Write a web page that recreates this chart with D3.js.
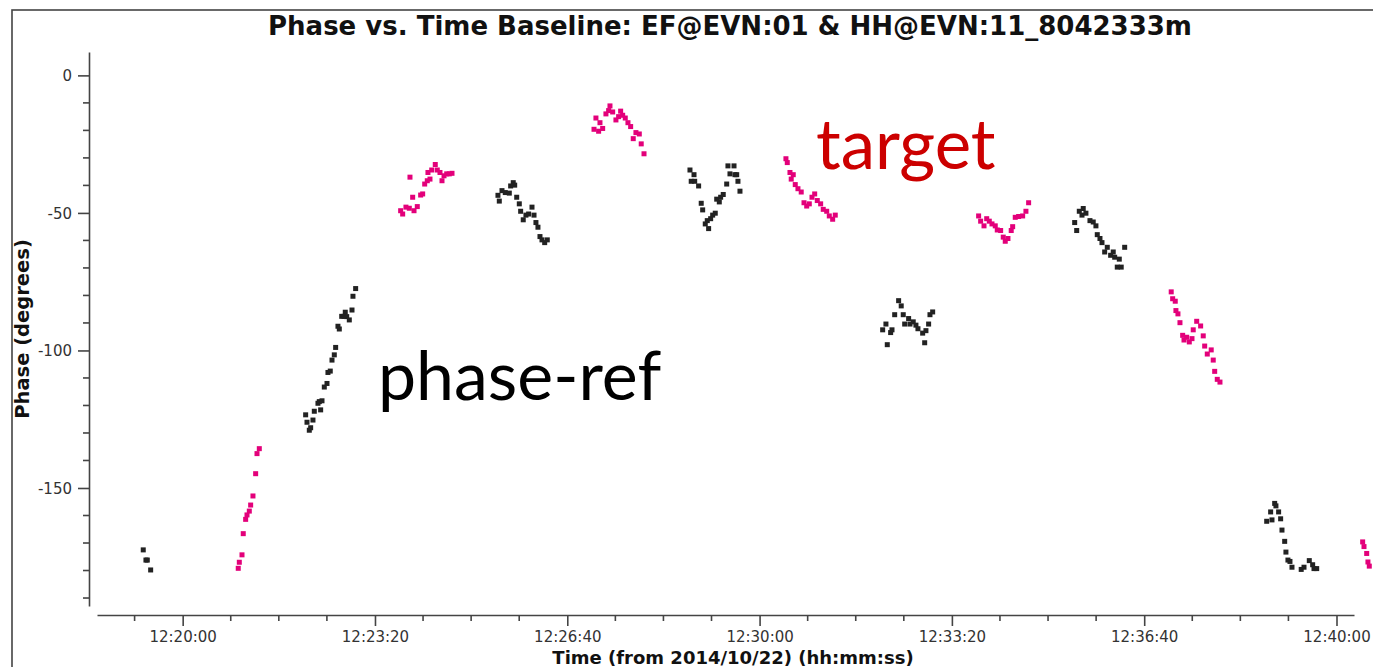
<!DOCTYPE html>
<html>
<head>
<meta charset="utf-8">
<script src="https://cdn.jsdelivr.net/npm/d3@7"></script>
<style>
  html, body { margin: 0; padding: 0; background: #fff; }
  svg { display: block; }
</style>
</head>
<body>
<svg id="chart" width="1373" height="667"></svg>
<script>
// Visibility phase on baseline EF-HH, scans alternating between the
// phase-reference calibrator and the target. Times are seconds after 12:00:00 UT.
const phaseRef = [
  [1159.0,-172.5],[1161.8,-176.2],[1163.2,-176.2],[1166.7,-179.8],
  [1327.9,-123.4],[1329.3,-126.1],[1331.7,-129.0],[1333.1,-128.1],[1335.5,-125.3],
  [1336.9,-122.1],[1340.7,-119.2],[1342.1,-118.6],[1343.5,-121.6],[1344.9,-118.3],
  [1347.3,-113.3],[1350.1,-112.0],[1351.1,-108.0],[1353.5,-107.5],[1355.3,-103.5],
  [1357.7,-101.6],[1359.1,-98.9],[1361.5,-91.2],[1362.9,-92.2],[1365.4,-87.6],
  [1367.8,-87.6],[1369.1,-86.1],[1370.6,-87.7],[1373.3,-88.9],[1376.1,-85.3],
  [1377.1,-80.3],[1379.9,-77.5],
  [1527.9,-43.6],[1529.3,-45.7],[1532.1,-41.9],[1535.5,-42.6],[1539.7,-42.8],
  [1541.1,-40.2],[1543.8,-39.0],[1545.3,-39.9],[1547.4,-44.3],[1550.1,-46.7],
  [1551.5,-49.4],[1554.2,-52.5],[1557.0,-50.8],[1559.8,-50.4],[1563.3,-47.9],
  [1565.4,-50.8],[1567.4,-53.5],[1569.5,-55.2],[1571.6,-58.6],[1573.7,-59.8],
  [1576.5,-60.8],[1579.2,-59.8],
  [1727.6,-34.4],[1728.9,-38.5],[1731.8,-36.1],[1732.5,-38.5],[1736.6,-40.2],
  [1739.3,-46.5],[1740.8,-48.9],[1743.5,-54.0],[1745.6,-52.8],[1747.0,-55.7],
  [1749.1,-52.1],[1751.2,-50.8],[1753.9,-50.1],[1755.4,-45.0],[1758.1,-46.0],
  [1759.5,-44.3],[1762.2,-43.3],[1765.8,-39.5],[1767.1,-32.9],[1769.2,-35.8],
  [1773.4,-32.9],[1774.4,-36.1],[1776.2,-36.1],[1777.5,-38.5],[1779.6,-42.1],
  [1928.0,-92.5],[1931.4,-90.4],[1932.8,-97.9],[1936.3,-93.5],[1937.7,-92.5],
  [1940.5,-87.0],[1944.6,-81.9],[1947.3,-83.8],[1949.4,-87.0],[1950.9,-90.4],
  [1955.0,-88.4],[1956.4,-90.4],[1959.8,-89.6],[1962.6,-90.8],[1964.7,-92.1],
  [1969.6,-93.7],[1971.7,-97.2],[1973.0,-92.8],[1975.8,-90.4],[1977.2,-87.0],
  [1980.0,-86.0],
  [2127.7,-53.5],[2129.8,-56.4],[2132.5,-49.4],[2135.3,-50.8],[2136.6,-48.4],
  [2139.4,-50.1],[2143.6,-52.8],[2147.0,-53.3],[2149.8,-54.7],[2151.2,-57.9],
  [2154.0,-59.3],[2156.1,-60.8],[2158.9,-64.2],[2161.6,-62.5],[2165.1,-65.4],
  [2167.8,-64.2],[2169.3,-66.1],[2172.0,-69.7],[2174.1,-66.8],[2176.1,-69.7],
  [2179.7,-62.5],
  [2327.4,-162.1],[2331.5,-158.7],[2332.9,-161.6],[2335.7,-155.6],[2337.0,-156.5],
  [2339.8,-158.7],[2341.9,-161.2],[2343.3,-165.3],[2346.1,-169.4],[2347.4,-173.3],
  [2349.5,-176.2],[2351.6,-176.7],[2353.7,-178.8],[2363.3,-179.6],[2366.2,-178.8],
  [2371.7,-176.4],[2375.2,-177.9],[2376.6,-179.3],[2379.4,-179.3]
];

const target = [
  [1257.8,-179.2],[1258.9,-177.0],[1261.7,-174.3],[1263.0,-166.6],[1265.5,-161.4],
  [1266.9,-159.8],[1269.3,-158.4],[1270.7,-156.2],[1273.1,-152.9],[1275.9,-144.8],
  [1277.3,-137.5],[1279.7,-135.7],
  [1426.7,-49.2],[1428.8,-50.4],[1432.2,-47.9],[1435.7,-48.3],[1436.4,-37.0],
  [1439.2,-44.3],[1440.6,-49.2],[1444.0,-47.7],[1447.5,-43.5],[1449.6,-43.1],
  [1451.7,-39.5],[1454.4,-38.3],[1455.1,-35.3],[1457.2,-37.7],[1459.0,-34.4],
  [1462.7,-32.4],[1464.8,-34.4],[1467.6,-35.3],[1469.7,-38.3],[1471.8,-36.5],
  [1474.6,-35.8],[1477.3,-35.8],[1480.1,-35.6],
  [1627.8,-19.6],[1629.8,-15.5],[1632.6,-20.3],[1634.0,-17.2],[1636.8,-19.3],
  [1640.2,-14.0],[1643.0,-12.8],[1644.4,-11.1],[1647.2,-13.3],[1650.6,-16.2],
  [1653.4,-15.0],[1655.5,-13.0],[1657.6,-14.5],[1660.3,-15.5],[1663.1,-17.2],
  [1665.9,-18.6],[1668.6,-23.0],[1671.4,-20.8],[1674.9,-21.3],[1676.9,-24.9],
  [1679.8,-28.5],
  [1827.4,-30.3],[1828.8,-31.7],[1831.6,-35.3],[1832.9,-37.7],[1835.0,-36.1],
  [1837.1,-39.7],[1839.9,-41.2],[1843.3,-42.4],[1846.2,-46.3],[1849.0,-47.5],
  [1851.7,-46.7],[1854.5,-44.3],[1857.3,-43.1],[1860.0,-45.5],[1863.5,-46.7],
  [1866.2,-48.7],[1869.8,-49.4],[1872.5,-51.1],[1876.0,-52.3],[1878.7,-50.8],
  [2027.8,-51.1],[2029.9,-53.0],[2033.4,-54.7],[2036.2,-52.1],[2038.9,-53.0],
  [2041.7,-54.0],[2045.1,-54.7],[2047.2,-56.2],[2050.7,-56.4],[2053.4,-58.8],
  [2055.5,-60.3],[2058.3,-59.3],[2061.7,-56.4],[2063.2,-55.0],[2065.9,-51.6],
  [2069.4,-51.3],[2073.6,-51.1],[2077.0,-49.4],[2079.8,-46.3],
  [2228.1,-78.7],[2229.6,-81.2],[2232.3,-82.1],[2233.0,-85.5],[2235.1,-86.7],
  [2237.2,-89.9],[2240.0,-94.5],[2241.4,-96.2],[2244.2,-95.2],[2246.9,-96.9],
  [2249.7,-95.7],[2251.0,-92.5],[2254.6,-89.4],[2258.7,-91.1],[2261.4,-94.7],
  [2262.9,-98.4],[2265.6,-101.3],[2269.7,-99.8],[2271.8,-103.5],[2273.3,-107.6],
  [2276.0,-110.5],[2278.8,-111.5],
  [2427.2,-169.6],[2428.6,-171.3],[2431.4,-173.8],[2432.7,-176.9],[2434.1,-178.4]
];

// Axis annotation: labelled times (seconds after 12:00:00) and phase ticks
const timeTicks = [1200, 1400, 1600, 1800, 2000, 2200, 2400];
const timeTickLabels = ["12:20:00", "12:23:20", "12:26:40", "12:30:00", "12:33:20", "12:36:40", "12:40:00"];
const phaseTicks = [0, -50, -100, -150];
const phaseTickLabels = ["0", "-50", "-100", "-150"];

const titleText = "Phase vs. Time Baseline: EF@EVN:01 & HH@EVN:11_8042333m";
const xLabel = "Time (from 2014/10/22) (hh:mm:ss)";
const yLabel = "Phase (degrees)";

const svg = d3.select("#chart");
const INK = "#333";
const REF_COLOR = "#222222";
const TGT_COLOR = "#e3007a";

// Outer frame
svg.append("rect")
  .attr("x", 12).attr("y", 10)
  .attr("width", 1420).attr("height", 720)
  .attr("fill", "none").attr("stroke", "#444").attr("stroke-width", 1.6);

// Scales
const x = d3.scaleLinear().domain([1110.9, 2418.2]).range([97, 1354]);
const y = d3.scaleLinear().domain([-192.9, 8.5]).range([606, 52]);

// Minor ticks every 50 s and every 10 degrees
const timeMinor = d3.range(1150, 2418, 50).filter(t => !timeTicks.includes(t));
const phaseMinor = d3.range(-190, 1, 10).filter(p => !phaseTicks.includes(p));

const axisFont = "'DejaVu Sans', sans-serif";

// X axis
const xAxisG = svg.append("g").attr("transform", "translate(0,615)");
xAxisG.call(d3.axisBottom(x).tickValues(timeTicks).tickSize(11).tickSizeOuter(0)
  .tickFormat((d, i) => timeTickLabels[i]));
xAxisG.selectAll(".minor").data(timeMinor).enter().append("line")
  .attr("class", "minor")
  .attr("x1", d => x(d)).attr("x2", d => x(d))
  .attr("y1", 0).attr("y2", 6);

// Y axis
const yAxisG = svg.append("g").attr("transform", "translate(89,0)");
yAxisG.call(d3.axisLeft(y).tickValues(phaseTicks).tickSize(11).tickSizeOuter(0)
  .tickFormat((d, i) => phaseTickLabels[i]));
yAxisG.selectAll(".minor").data(phaseMinor).enter().append("line")
  .attr("class", "minor")
  .attr("y1", d => y(d)).attr("y2", d => y(d))
  .attr("x1", 0).attr("x2", -6);

[xAxisG, yAxisG].forEach(g => {
  g.select(".domain").attr("stroke", "#444").attr("stroke-width", 1.6);
  g.selectAll(".tick line, line.minor").attr("stroke", "#444").attr("stroke-width", 1.6);
  g.selectAll(".tick text")
    .attr("fill", INK)
    .style("font-family", axisFont)
    .style("font-size", "15px");
});
xAxisG.selectAll(".tick text").attr("dy", "0").attr("y", 27);
yAxisG.selectAll(".tick text").attr("x", -17).attr("dy", "0.35em");

// Data points: small filled squares
const S = 5;
function drawSeries(data, color) {
  svg.append("g").selectAll("rect").data(data).enter().append("rect")
    .attr("x", d => x(d[0]) - S / 2)
    .attr("y", d => y(d[1]) - S / 2)
    .attr("width", S).attr("height", S)
    .attr("fill", color);
}
drawSeries(phaseRef, REF_COLOR);
drawSeries(target, TGT_COLOR);

// Title and axis titles
svg.append("text")
  .attr("x", 730).attr("y", 35)
  .attr("text-anchor", "middle")
  .style("font-family", axisFont).style("font-weight", "bold").style("font-size", "26px")
  .attr("fill", "#111")
  .text(titleText);

svg.append("text")
  .attr("x", 733).attr("y", 663.5)
  .attr("text-anchor", "middle")
  .style("font-family", axisFont).style("font-weight", "bold").style("font-size", "18px")
  .attr("fill", "#111")
  .text(xLabel);

svg.append("text")
  .attr("transform", "translate(29,329) rotate(-90)")
  .attr("text-anchor", "middle")
  .style("font-family", axisFont).style("font-weight", "bold").style("font-size", "19.5px")
  .attr("fill", "#111")
  .text(yLabel);

// Scan-type annotations
svg.append("text")
  .attr("x", 378).attr("y", 400)
  .style("font-family", "Lato, 'Open Sans', sans-serif").style("font-size", "68px")
  .attr("fill", "#000")
  .text("phase-ref");

svg.append("text")
  .attr("x", 816).attr("y", 169)
  .style("font-family", "Lato, 'Open Sans', sans-serif").style("font-size", "69px")
  .attr("fill", "#cc0000")
  .text("target");
</script>
</body>
</html>
